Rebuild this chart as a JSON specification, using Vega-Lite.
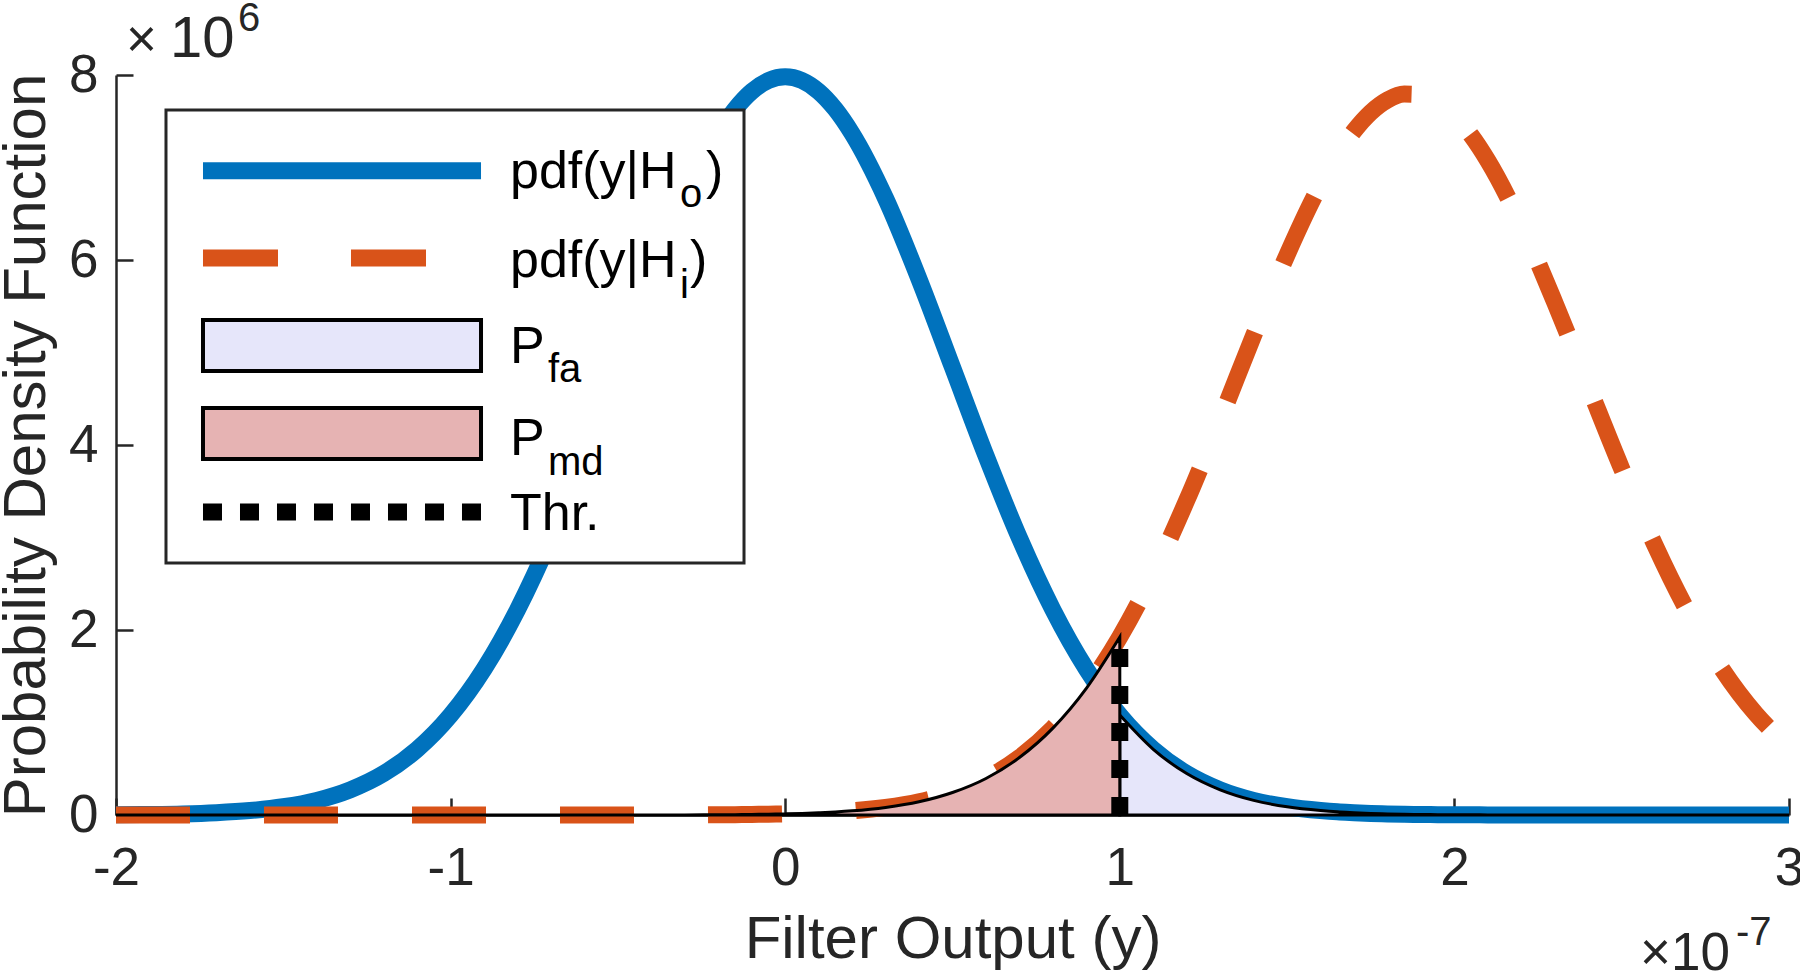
{
  "$schema": "https://vega.github.io/schema/vega-lite/v6.json",
  "width": 1673,
  "height": 740,
  "autosize": {"type": "none"},
  "padding": {"left": 116, "top": 75, "right": 11, "bottom": 160},
  "background": "white",
  "data": {"values": [{"anchor": 1}]},
  "datasets": {
    "pdf": [
      {"x": -2.0, "h0": 0.003, "h1": 0},
      {"x": -1.9, "h0": 0.006, "h1": 0},
      {"x": -1.8, "h0": 0.012, "h1": 0},
      {"x": -1.7, "h0": 0.025, "h1": 0},
      {"x": -1.6, "h0": 0.048, "h1": 0},
      {"x": -1.5, "h0": 0.089, "h1": 0},
      {"x": -1.4, "h0": 0.158, "h1": 0},
      {"x": -1.3, "h0": 0.272, "h1": 0},
      {"x": -1.2, "h0": 0.448, "h1": 0},
      {"x": -1.1, "h0": 0.710, "h1": 0},
      {"x": -1.0, "h0": 1.080, "h1": 0},
      {"x": -0.9, "h0": 1.579, "h1": 0},
      {"x": -0.8, "h0": 2.219, "h1": 0},
      {"x": -0.7, "h0": 2.995, "h1": 0},
      {"x": -0.6, "h0": 3.885, "h1": 0},
      {"x": -0.5, "h0": 4.840, "h1": 0},
      {"x": -0.4, "h0": 5.794, "h1": 0.001},
      {"x": -0.3, "h0": 6.666, "h1": 0.001},
      {"x": -0.2, "h0": 7.366, "h1": 0.003},
      {"x": -0.15, "h0": 7.629, "h1": 0.004},
      {"x": -0.1, "h0": 7.822, "h1": 0.006},
      {"x": -0.05, "h0": 7.940, "h1": 0.009},
      {"x": 0.0, "h0": 7.980, "h1": 0.012},
      {"x": 0.05, "h0": 7.940, "h1": 0.017},
      {"x": 0.1, "h0": 7.822, "h1": 0.024},
      {"x": 0.15, "h0": 7.629, "h1": 0.033},
      {"x": 0.2, "h0": 7.366, "h1": 0.045},
      {"x": 0.3, "h0": 6.666, "h1": 0.082},
      {"x": 0.4, "h0": 5.794, "h1": 0.143},
      {"x": 0.5, "h0": 4.840, "h1": 0.243},
      {"x": 0.6, "h0": 3.885, "h1": 0.395},
      {"x": 0.7, "h0": 2.995, "h1": 0.621},
      {"x": 0.8, "h0": 2.219, "h1": 0.939},
      {"x": 0.9, "h0": 1.579, "h1": 1.369},
      {"x": 1.0, "h0": 1.080, "h1": 1.924},
      {"x": 1.1, "h0": 0.710, "h1": 2.606},
      {"x": 1.2, "h0": 0.448, "h1": 3.401},
      {"x": 1.3, "h0": 0.272, "h1": 4.277},
      {"x": 1.4, "h0": 0.158, "h1": 5.185},
      {"x": 1.5, "h0": 0.089, "h1": 6.056},
      {"x": 1.6, "h0": 0.048, "h1": 6.816},
      {"x": 1.65, "h0": 0.034, "h1": 7.132},
      {"x": 1.7, "h0": 0.025, "h1": 7.394},
      {"x": 1.75, "h0": 0.017, "h1": 7.595},
      {"x": 1.8, "h0": 0.012, "h1": 7.730},
      {"x": 1.85, "h0": 0.008, "h1": 7.794},
      {"x": 1.9, "h0": 0.006, "h1": 7.787},
      {"x": 1.95, "h0": 0.004, "h1": 7.708},
      {"x": 2.0, "h0": 0.003, "h1": 7.560},
      {"x": 2.05, "h0": 0.002, "h1": 7.347},
      {"x": 2.1, "h0": 0.001, "h1": 7.073},
      {"x": 2.2, "h0": 0, "h1": 6.377},
      {"x": 2.3, "h0": 0, "h1": 5.541},
      {"x": 2.4, "h0": 0, "h1": 4.640},
      {"x": 2.5, "h0": 0, "h1": 3.744},
      {"x": 2.6, "h0": 0, "h1": 2.912},
      {"x": 2.7, "h0": 0, "h1": 2.182},
      {"x": 2.8, "h0": 0, "h1": 1.576},
      {"x": 2.9, "h0": 0, "h1": 1.097},
      {"x": 3.0, "h0": 0, "h1": 0.736}
    ],
    "threshold": [
      {"thr": 1.0, "base": 0, "top": 1.86}
    ]
  },
  "layer": [
    {
      "data": {"name": "pdf"},
      "mark": {"type": "line", "color": "#0072BD", "strokeWidth": 17, "interpolate": "monotone", "strokeCap": "butt"},
      "encoding": {
        "x": {"field": "x", "type": "quantitative", "scale": {"domain": [-2, 3], "nice": false, "zero": false},
              "title": "Filter Output (y)",
              "axis": {"values": [-2, -1, 0, 1, 2, 3], "labelExpr": "'' + datum.value"}},
        "y": {"field": "h0", "type": "quantitative", "scale": {"domain": [0, 8], "nice": false},
              "title": "Probability Density Function",
              "axis": {"values": [0, 2, 4, 6, 8], "labelExpr": "'' + datum.value"}}
      }
    },
    {
      "data": {"name": "pdf"},
      "mark": {"type": "line", "color": "#D95319", "strokeWidth": 17, "interpolate": "monotone", "strokeDash": [74, 74], "strokeCap": "butt"},
      "encoding": {
        "x": {"field": "x", "type": "quantitative", "title": "Filter Output (y)"},
        "y": {"field": "h1", "type": "quantitative", "title": "Probability Density Function"}
      }
    },
    {
      "data": {"name": "pdf"},
      "transform": [{"filter": "datum.x >= 1"}],
      "mark": {"type": "area", "fill": "#E6E6FA", "fillOpacity": 1, "stroke": "#000000", "strokeWidth": 3, "interpolate": "monotone"},
      "encoding": {
        "x": {"field": "x", "type": "quantitative", "title": "Filter Output (y)"},
        "y": {"field": "h0", "type": "quantitative", "title": "Probability Density Function"}
      }
    },
    {
      "data": {"name": "pdf"},
      "transform": [{"filter": "datum.x <= 1"}],
      "mark": {"type": "area", "fill": "#E6B3B3", "fillOpacity": 1, "stroke": "#000000", "strokeWidth": 3, "interpolate": "monotone"},
      "encoding": {
        "x": {"field": "x", "type": "quantitative", "title": "Filter Output (y)"},
        "y": {"field": "h1", "type": "quantitative", "title": "Probability Density Function"}
      }
    },
    {
      "data": {"name": "threshold"},
      "mark": {"type": "rule", "color": "#000000", "strokeWidth": 17, "strokeDash": [18, 19], "strokeCap": "butt"},
      "encoding": {
        "x": {"field": "thr", "type": "quantitative", "title": "Filter Output (y)"},
        "y": {"field": "base", "type": "quantitative", "title": "Probability Density Function"},
        "y2": {"field": "top"}
      }
    },
    {
      "mark": {"type": "rect", "fill": "white", "stroke": "#262626", "strokeWidth": 3},
      "encoding": {
        "x": {"datum": -1.8506}, "x2": {"datum": -0.1231},
        "y": {"datum": 7.6216}, "y2": {"datum": 2.7243}
      }
    },
    {
      "mark": {"type": "rule", "color": "#0072BD", "strokeWidth": 17, "strokeCap": "butt"},
      "encoding": {"x": {"datum": -1.740}, "x2": {"datum": -0.9091}, "y": {"datum": 6.9654}}
    },
    {
      "mark": {"type": "rule", "color": "#D95319", "strokeWidth": 17, "strokeDash": [75, 73], "strokeCap": "butt"},
      "encoding": {"x": {"datum": -1.740}, "x2": {"datum": -0.9091}, "y": {"datum": 6.0216}}
    },
    {
      "mark": {"type": "rect", "fill": "#E6E6FA", "stroke": "#000000", "strokeWidth": 4},
      "encoding": {"x": {"datum": -1.740}, "x2": {"datum": -0.9091}, "y": {"datum": 5.3514}, "y2": {"datum": 4.8}}
    },
    {
      "mark": {"type": "rect", "fill": "#E6B3B3", "stroke": "#000000", "strokeWidth": 4},
      "encoding": {"x": {"datum": -1.740}, "x2": {"datum": -0.9091}, "y": {"datum": 4.4}, "y2": {"datum": 3.8486}}
    },
    {
      "mark": {"type": "rule", "color": "#000000", "strokeWidth": 17, "strokeDash": [19, 18], "strokeCap": "butt"},
      "encoding": {"x": {"datum": -1.740}, "x2": {"datum": -0.9091}, "y": {"datum": 3.2757}}
    },
    {
      "mark": {"type": "text", "text": "pdf(y|H", "font": "Liberation Sans", "fontSize": 52, "color": "#000000", "align": "left", "baseline": "alphabetic"},
      "encoding": {"x": {"datum": -0.8225}, "y": {"datum": 6.7784}}
    },
    {
      "mark": {"type": "text", "text": "o", "font": "Liberation Sans", "fontSize": 40, "color": "#000000", "align": "left", "baseline": "alphabetic"},
      "encoding": {"x": {"datum": -0.3144}, "y": {"datum": 6.573}}
    },
    {
      "mark": {"type": "text", "text": ")", "font": "Liberation Sans", "fontSize": 52, "color": "#000000", "align": "left", "baseline": "alphabetic"},
      "encoding": {"x": {"datum": -0.2367}, "y": {"datum": 6.7784}}
    },
    {
      "mark": {"type": "text", "text": "pdf(y|H", "font": "Liberation Sans", "fontSize": 52, "color": "#000000", "align": "left", "baseline": "alphabetic"},
      "encoding": {"x": {"datum": -0.8225}, "y": {"datum": 5.8162}}
    },
    {
      "mark": {"type": "text", "text": "i", "font": "Liberation Sans", "fontSize": 40, "color": "#000000", "align": "left", "baseline": "alphabetic"},
      "encoding": {"x": {"datum": -0.3144}, "y": {"datum": 5.5892}}
    },
    {
      "mark": {"type": "text", "text": ")", "font": "Liberation Sans", "fontSize": 52, "color": "#000000", "align": "left", "baseline": "alphabetic"},
      "encoding": {"x": {"datum": -0.2845}, "y": {"datum": 5.8162}}
    },
    {
      "mark": {"type": "text", "text": "P", "font": "Liberation Sans", "fontSize": 52, "color": "#000000", "align": "left", "baseline": "alphabetic"},
      "encoding": {"x": {"datum": -0.8225}, "y": {"datum": 4.8865}}
    },
    {
      "mark": {"type": "text", "text": "fa", "font": "Liberation Sans", "fontSize": 40, "color": "#000000", "align": "left", "baseline": "alphabetic"},
      "encoding": {"x": {"datum": -0.7089}, "y": {"datum": 4.6811}}
    },
    {
      "mark": {"type": "text", "text": "P", "font": "Liberation Sans", "fontSize": 52, "color": "#000000", "align": "left", "baseline": "alphabetic"},
      "encoding": {"x": {"datum": -0.8225}, "y": {"datum": 3.8919}}
    },
    {
      "mark": {"type": "text", "text": "md", "font": "Liberation Sans", "fontSize": 40, "color": "#000000", "align": "left", "baseline": "alphabetic"},
      "encoding": {"x": {"datum": -0.7089}, "y": {"datum": 3.6757}}
    },
    {
      "mark": {"type": "text", "text": "Thr.", "font": "Liberation Sans", "fontSize": 52, "color": "#000000", "align": "left", "baseline": "alphabetic"},
      "encoding": {"x": {"datum": -0.8225}, "y": {"datum": 3.0811}}
    },
    {
      "mark": {"type": "text", "text": "×", "font": "Liberation Sans", "fontSize": 53, "color": "#262626", "align": "left", "baseline": "alphabetic"},
      "encoding": {"x": {"datum": -1.9701}, "y": {"datum": 8.1946}}
    },
    {
      "mark": {"type": "text", "text": "10", "font": "Liberation Sans", "fontSize": 58, "color": "#262626", "align": "left", "baseline": "alphabetic"},
      "encoding": {"x": {"datum": -1.8386}, "y": {"datum": 8.1946}}
    },
    {
      "mark": {"type": "text", "text": "6", "font": "Liberation Sans", "fontSize": 40, "color": "#262626", "align": "left", "baseline": "alphabetic"},
      "encoding": {"x": {"datum": -1.6354}, "y": {"datum": 8.4757}}
    },
    {
      "mark": {"type": "text", "text": "×10", "font": "Liberation Sans", "fontSize": 53, "color": "#262626", "align": "left", "baseline": "alphabetic"},
      "encoding": {"x": {"datum": 2.5547}, "y": {"datum": -1.6757}}
    },
    {
      "mark": {"type": "text", "text": "-7", "font": "Liberation Sans", "fontSize": 40, "color": "#262626", "align": "left", "baseline": "alphabetic"},
      "encoding": {"x": {"datum": 2.8416}, "y": {"datum": -1.4054}}
    }
  ],
  "config": {
    "view": {"stroke": null},
    "font": "Liberation Sans",
    "axis": {
      "grid": false,
      "domainColor": "#262626",
      "domainWidth": 2.5,
      "tickColor": "#262626",
      "tickWidth": 2.5,
      "tickSize": -17,
      "labelFont": "Liberation Sans",
      "labelFontSize": 53,
      "labelColor": "#262626",
      "labelFlush": false,
      "labelOverlap": false,
      "titleFont": "Liberation Sans",
      "titleFontSize": 60,
      "titleFontWeight": "normal",
      "titleColor": "#262626"
    },
    "axisX": {"labelPadding": 44, "titlePadding": 15},
    "axisY": {"labelPadding": 35, "titlePadding": 11}
  }
}
